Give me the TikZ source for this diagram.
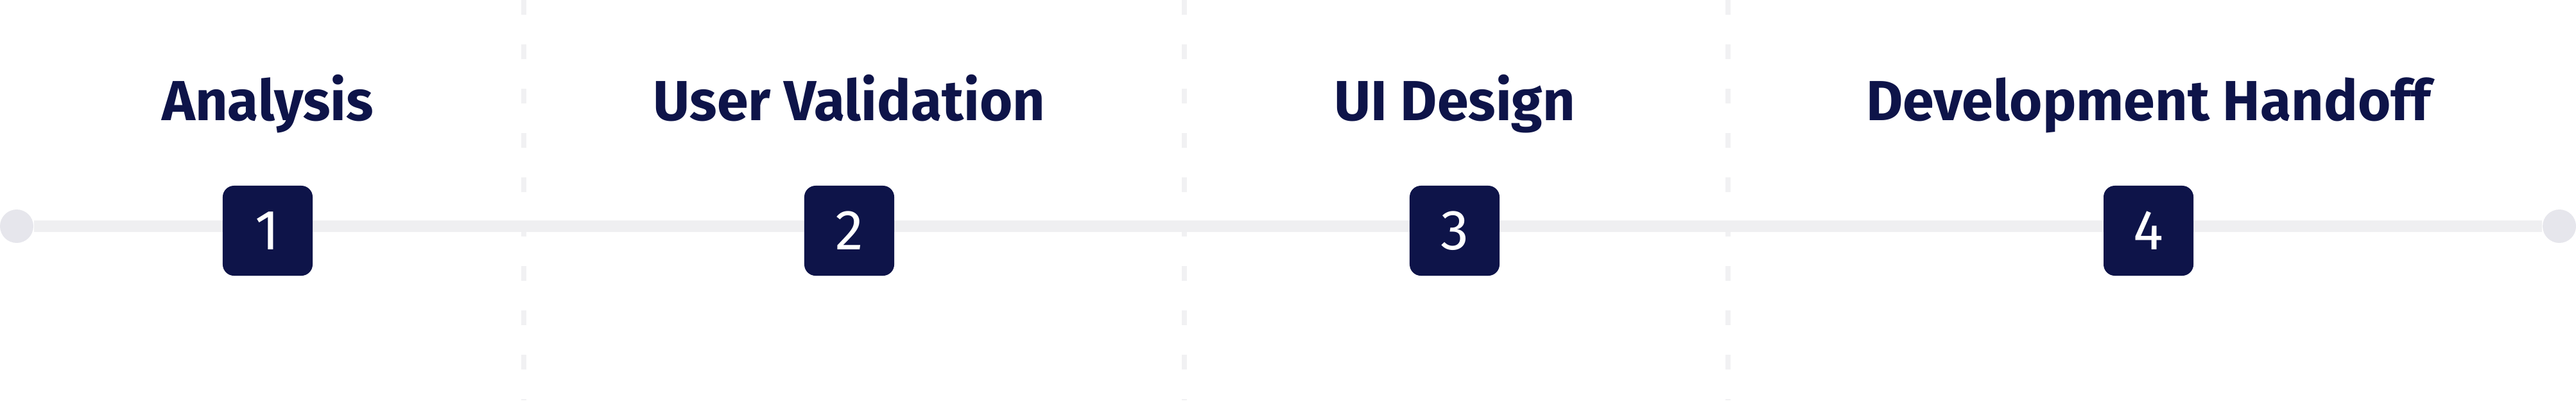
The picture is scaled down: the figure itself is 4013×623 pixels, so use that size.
\documentclass[tikz,border=0pt]{standalone}
\usepackage{fontspec}
\setmainfont{Fira Sans}
\usetikzlibrary{positioning}
\definecolor{navy}{HTML}{0E1449}
\definecolor{railgray}{HTML}{EFEFF1}
\definecolor{dotgray}{HTML}{E6E6EC}
\definecolor{sepgray}{HTML}{F1F1F3}
\tikzset{
  stepnum/.style={fill=navy,rounded corners=5pt,minimum width=1.4cm,minimum height=1.4cm,inner sep=0pt,text=white,font=\fontsize{25}{25}\selectfont},
  steptitle/.style={text=navy,font=\fontsize{25}{25}\selectfont\bfseries,anchor=base},
  enddot/.style={circle,fill=dotgray,minimum size=0.52cm,inner sep=0pt},
  separator/.style={draw=sepgray,line width=2.5pt,dash pattern=on 0.23cm off 0.46cm}
}
\begin{document}
\begin{tikzpicture}[x=0.01cm,y=-0.01cm]
\useasboundingbox (0,0) rectangle (4013,623);
% separators
\foreach \sx in {816,1845,2692}
  \draw [separator] (\sx,0) -- (\sx,623);
% rail
\node [enddot] (start) at (26,352) {};
\node [enddot] (end) at (3987,352) {};
\draw [railgray,line width=5pt] (start) -- (end);
% steps
\node [stepnum] (s1) at (417,359) {1};
\node [stepnum] (s2) at (1323,359) {2};
\node [stepnum] (s3) at (2266,359) {3};
\node [stepnum] (s4) at (3347,359) {4};
\node [steptitle] (t1) at (417,187) {Analysis};
\node [steptitle] (t2) at (1323,187) {User Validation};
\node [steptitle] (t3) at (2266,187) {UI Design};
\node [steptitle] (t4) at (3347,187) {Development Handoff};
\end{tikzpicture}
\end{document}
